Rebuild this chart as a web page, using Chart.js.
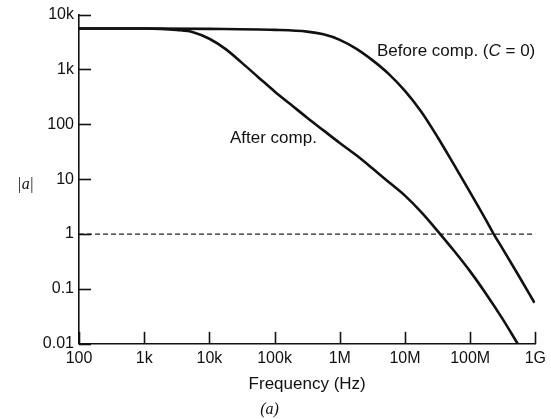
<!DOCTYPE html>
<html>
<head>
<meta charset="utf-8">
<script src="https://cdn.jsdelivr.net/npm/chart.js@4.4.1/dist/chart.umd.min.js"></script>
<style>
  html, body { margin: 0; padding: 0; background: #ffffff; }
  #wrap { width: 551px; height: 419px; }
</style>
</head>
<body>
<div id="wrap"><canvas id="c" width="551" height="419"></canvas></div>
<script>
// ---- data ----
const xTickValues = [1e2, 1e3, 1e4, 1e5, 1e6, 1e7, 1e8, 1e9];
const xTickLabels = ['100', '1k', '10k', '100k', '1M', '10M', '100M', '1G'];
const yTickValues = [0.01, 0.1, 1, 10, 100, 1e3, 1e4];
const yTickLabels = ['0.01', '0.1', '1', '10', '100', '1k', '10k'];

const beforeFreq = [100, 1e3, 1e4, 1e5, 3.16e5, 5.62e5, 1e6, 1.78e6, 3.16e6, 5.62e6, 1e7, 1.78e7, 3.16e7, 5.62e7, 1e8, 1.78e8, 2.3e8, 3.16e8, 5.62e8, 9.7e8];
const beforeGain = [5570, 5570, 5495, 5272, 4898, 4365, 3467, 2399, 1479, 832, 407, 170, 58.9, 18.6, 5.75, 1.74, 1.0, 0.537, 0.17, 0.056];

const afterFreq = [100, 1e3, 1.78e3, 3.16e3, 5.62e3, 1e4, 1.78e4, 3.16e4, 5.62e4, 1e5, 1.78e5, 3.16e5, 5.62e5, 1e6, 1.78e6, 3.16e6, 5.62e6, 1e7, 1.78e7, 3.47e7, 5.62e7, 1e8, 1.78e8, 3.16e8, 5.37e8];
const afterGain = [5570, 5570, 5495, 5248, 4786, 3631, 2344, 1318, 724, 398, 229, 132, 77.6, 45.7, 27.5, 15.8, 8.91, 5.01, 2.51, 1.0, 0.501, 0.209, 0.0794, 0.0282, 0.01];

const unityFreq = [1e2, 1e9];
const unityGain = [1, 1];

const xTitle = 'Frequency (Hz)';
const figTitle = '(a)';
const afterLabel = 'After comp.';
const beforeLabelParts = ['Before comp. (', 'C', ' = 0)'];

// ---- helpers ----
const toPts = (xs, ys) => xs.map((v, i) => ({ x: v, y: ys[i] }));
const INK = '#111111';
const SANS = '"Liberation Sans", Arial, Helvetica, sans-serif';
const SERIF = '"Liberation Serif", "Times New Roman", serif';

const overlay = {
  id: 'overlay',
  afterDraw(chart) {
    const { ctx, scales: { x, y }, chartArea: a } = chart;
    ctx.save();
    ctx.strokeStyle = INK;
    ctx.lineWidth = 1.6;
    // inward tick marks
    xTickValues.forEach(v => {
      const px = Math.round(x.getPixelForValue(v)) + 0.5;
      ctx.beginPath(); ctx.moveTo(px, a.bottom); ctx.lineTo(px, a.bottom - 12); ctx.stroke();
    });
    yTickValues.forEach(v => {
      const py = Math.round(y.getPixelForValue(v)) + 0.5;
      ctx.beginPath(); ctx.moveTo(a.left, py); ctx.lineTo(a.left + 12, py); ctx.stroke();
    });
    // curve labels
    ctx.fillStyle = INK;
    ctx.textBaseline = 'middle';
    ctx.textAlign = 'left';
    ctx.font = '17px ' + SANS;
    ctx.fillText(afterLabel, 230, 138);
    let bx = 377;
    ctx.font = '17px ' + SANS;
    ctx.fillText(beforeLabelParts[0], bx, 51);
    bx += ctx.measureText(beforeLabelParts[0]).width;
    ctx.font = 'italic 17px ' + SANS;
    ctx.fillText(beforeLabelParts[1], bx, 51);
    bx += ctx.measureText(beforeLabelParts[1]).width;
    ctx.font = '17px ' + SANS;
    ctx.fillText(beforeLabelParts[2], bx, 51);
    // y axis label |a|
    ctx.font = '16px ' + SERIF;
    let yx = 18;
    ctx.fillText('|', yx, 185);
    yx += ctx.measureText('|').width + 0.5;
    ctx.font = 'italic 16px ' + SERIF;
    ctx.fillText('a', yx, 185);
    yx += ctx.measureText('a').width + 0.5;
    ctx.font = '16px ' + SERIF;
    ctx.fillText('|', yx, 185);
    ctx.restore();
  }
};

new Chart(document.getElementById('c'), {
  type: 'scatter',
  data: {
    datasets: [
      { label: 'Before comp.', data: toPts(beforeFreq, beforeGain), showLine: true, borderColor: INK, borderWidth: 2.6, pointRadius: 0, cubicInterpolationMode: 'monotone' },
      { label: 'After comp.', data: toPts(afterFreq, afterGain), showLine: true, borderColor: INK, borderWidth: 2.6, pointRadius: 0, cubicInterpolationMode: 'monotone' },
      { label: 'unity', data: toPts(unityFreq, unityGain), showLine: true, borderColor: '#222', borderWidth: 1.2, borderDash: [5, 3], pointRadius: 0 }
    ]
  },
  options: {
    responsive: false,
    devicePixelRatio: 1,
    animation: false,
    layout: { padding: { top: 14, right: 12, left: 0, bottom: 0 } },
    plugins: {
      legend: { display: false },
      tooltip: { enabled: false },
      title: {
        display: true, position: 'bottom', text: figTitle, color: INK,
        font: { family: SERIF, size: 16, style: 'italic', weight: 'normal', lineHeight: 1.2 },
        padding: { top: 5, bottom: 0 }
      }
    },
    scales: {
      x: {
        type: 'logarithmic', min: 1e2, max: 1e9,
        afterBuildTicks: s => { s.ticks = xTickValues.map(v => ({ value: v })); },
        afterFit: s => { s.height = 51; },
        ticks: {
          autoSkip: false, maxRotation: 0, minRotation: 0, padding: 5, color: INK,
          font: { family: SANS, size: 16 },
          callback: v => { const i = xTickValues.indexOf(v); return i >= 0 ? xTickLabels[i] : ''; }
        },
        grid: { display: true, drawOnChartArea: false, drawTicks: false },
        border: { display: true, color: INK, width: 1.6 },
        title: { display: true, text: xTitle, color: INK, font: { family: SANS, size: 17, lineHeight: 1.2 }, padding: { top: 0, bottom: 0 } }
      },
      y: {
        type: 'logarithmic', min: 0.01, max: 1e4,
        afterBuildTicks: s => { s.ticks = yTickValues.map(v => ({ value: v })); },
        afterFit: s => { s.width = 79; },
        ticks: {
          autoSkip: false, padding: 5, color: INK,
          font: { family: SANS, size: 16 },
          callback: v => { const i = yTickValues.findIndex(t => Math.abs(t - v) / t < 1e-6); return i >= 0 ? yTickLabels[i] : ''; }
        },
        grid: { display: true, drawOnChartArea: false, drawTicks: false },
        border: { display: true, color: INK, width: 1.6 },
        title: { display: false }
      }
    }
  },
  plugins: [overlay]
});
</script>
</body>
</html>
